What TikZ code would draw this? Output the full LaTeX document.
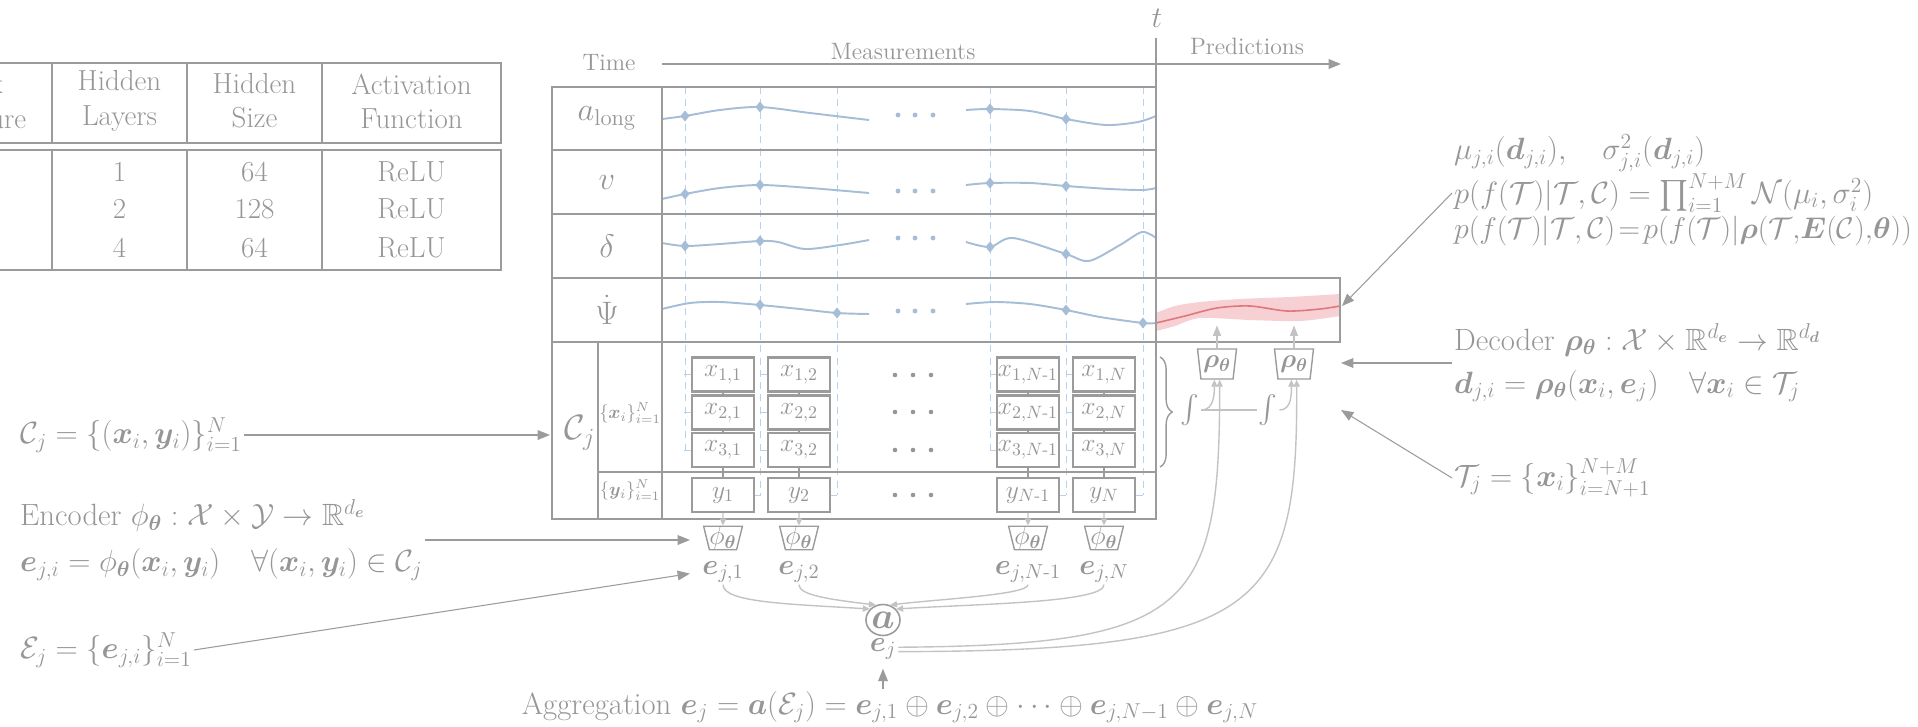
\documentclass[tikz,border=0pt]{standalone}
\usepackage{fix-cm}
\usepackage{amsmath,amssymb,bm}
\usetikzlibrary{shapes.geometric,decorations.pathreplacing,arrows.meta}
\definecolor{linegray}{RGB}{155,155,155}
\definecolor{txtgray}{RGB}{150,150,150}
\definecolor{softgray}{RGB}{195,195,195}
\definecolor{curveblue}{RGB}{165,189,214}
\definecolor{dashblue}{RGB}{182,210,240}
\definecolor{predred}{RGB}{222,120,125}
\definecolor{bandred}{RGB}{246,208,211}
\begin{document}
\begin{tikzpicture}[x=0.02cm,y=-0.02cm,
  gridln/.style={draw=linegray,line width=1.2pt},
  hair/.style={draw=linegray,line width=0.6pt},
  conn/.style={draw=linegray,line width=0.6pt,-{Triangle[length=7pt,width=5.5pt]}},
  soft/.style={draw=softgray,line width=0.8pt,-{Triangle[length=4pt,width=3.5pt]}},
  uparr/.style={draw=softgray,line width=0.8pt,-{Triangle[length=6pt,width=4.5pt]}},
  lbl/.style={text=txtgray,inner sep=1pt},
  eqn/.style={lbl,anchor=west,font=\fontsize{17.5}{21}\selectfont},
  tabtxt/.style={lbl,align=center,font=\fontsize{16.5}{19.5}\selectfont},
  axlbl/.style={lbl,font=\fontsize{13.5}{16}\selectfont},
  rowlbl/.style={lbl,font=\fontsize{18.5}{21}\selectfont},
  cell/.style={draw=linegray,line width=1.2pt,fill=white,minimum width=1.24cm,minimum height=0.68cm,inner sep=0pt,text=txtgray,font=\fontsize{14.5}{16}\selectfont},
  enc/.style={trapezium,shape border rotate=180,trapezium angle=76,trapezium stretches=true,draw=linegray,line width=0.8pt,minimum width=0.76cm,minimum height=0.44cm,inner sep=0pt,text=txtgray,font=\fontsize{15}{17}\selectfont},
  dec/.style={enc,trapezium angle=80,minimum width=0.78cm,minimum height=0.6cm},
  bluecurve/.style={draw=curveblue,line width=1.1pt},
  dashln/.style={draw=dashblue,line width=0.5pt,dash pattern=on 4pt off 3pt},
]
\useasboundingbox (0,0) rectangle (1918,727);
\clip (0,0) rectangle (1918,727);

% network table
\draw[gridln] (-200,63) rectangle (501,143);
\draw[gridln] (-200,150) rectangle (501,270);
\foreach \x in {52,187,322} {\draw[gridln] (\x,63)--(\x,143); \draw[gridln] (\x,150)--(\x,270);}
\node[tabtxt] (hnet) at (-46,101) {Network\\Architecture};
\node[tabtxt] (hlay) at (119.5,101) {Hidden\\Layers};
\node[tabtxt] (hsize) at (254.5,101) {Hidden\\Size};
\node[tabtxt] (hact) at (411.5,101) {Activation\\Function};
\foreach \r/\y/\l/\s in {1/172/1/64,2/209/2/128,3/248/4/64} {
  \node[tabtxt] (lay\r) at (119.5,\y) {\l};
  \node[tabtxt] (size\r) at (254.5,\y) {\s};
  \node[tabtxt] (act\r) at (411.5,\y) {ReLU};
}

% time axis
\node[axlbl] (time) at (609,63) {Time};
\node[axlbl] (meas) at (903,52) {Measurements};
\node[axlbl] (pred) at (1247,46) {Predictions};
\node[lbl,font=\fontsize{17}{21}\selectfont] (tlab) at (1157,18) {$t$};
\coordinate (tstart) at (662,64);
\coordinate (tend) at (1341,64);
\draw[conn,line width=0.8pt] (tstart) -- (tend);
\draw[gridln] (1156,38) -- (1156,87);

% measurement curves
\foreach \x/\e in {685/450,760/495,837/495,990/450,1066/495,1143/495} \draw[dashln] (\x,87) -- (\x,\e);
\draw[bluecurve] plot[smooth] coordinates {(662,119) (685,116) (720,110) (760,107) (810,113) (869,120)};
\draw[bluecurve] plot[smooth] coordinates {(966,110) (990,109) (1030,111) (1066,119) (1106,125) (1138,122) (1156,116)};
\draw[bluecurve] plot[smooth] coordinates {(662,199) (685,194) (720,188) (760,185) (810,188) (869,193)};
\draw[bluecurve] plot[smooth] coordinates {(966,185) (990,183) (1030,183) (1066,186) (1110,189) (1143,190) (1156,188)};
\draw[bluecurve] plot[smooth] coordinates {(662,243) (685,246) (720,244) (760,241) (778,242) (805,249) (840,245) (869,240)};
\draw[bluecurve] plot[smooth] coordinates {(966,242) (990,247) (1013,238) (1066,254) (1089,261) (1120,245) (1142,232) (1156,238)};
\draw[bluecurve] plot[smooth] coordinates {(662,309) (690,303) (720,302) (760,305) (800,309) (837,313) (869,314)};
\draw[bluecurve] plot[smooth] coordinates {(966,304) (995,302) (1030,304) (1066,310) (1100,317) (1143,323) (1156,323)};
\foreach \p in {{685,116},{760,107},{990,109},{1066,119},{685,194},{760,185},{990,183},{1066,186},{685,246},{760,241},{990,247},{1066,254},{760,305},{837,313},{1066,310},{1143,323}}
  \fill[curveblue] (\p) +(0,-5.5) -- +(4.5,0) -- +(0,5.5) -- +(-4.5,0) -- cycle;
\foreach \y in {115,191,238,311} \foreach \x in {898,915,933} \fill[curveblue] (\x,\y) circle (1.4pt);

% prediction
\fill[bandred] plot[smooth] coordinates {(1156,313) (1175,306) (1200,302) (1240,299) (1290,297) (1340,294)}
  -- plot[smooth] coordinates {(1340,316) (1300,321) (1250,320) (1200,318) (1175,326) (1156,331)} -- cycle;
\draw[draw=predred,line width=0.9pt] plot[smooth] coordinates {(1156,323) (1185,316) (1217,308) (1250,306) (1287,311) (1320,309) (1340,306)};
\draw[gridln] (1156,278) rectangle (1340,342);

% grid
\draw[gridln] (552,87) rectangle (1156,519);
\foreach \y in {150,214,278,342} \draw[gridln] (552,\y) -- (1156,\y);
\draw[gridln] (662,87) -- (662,519);
\draw[gridln] (598,342) -- (598,519);
\draw[gridln] (598,472) -- (1156,472);
\node[rowlbl] (along) at (607,118) {$a_{\mathrm{long}}$};
\node[rowlbl] (vel) at (607,182) {$v$};
\node[rowlbl] (steer) at (607,246) {$\delta$};
\node[rowlbl] (yaw) at (607,310) {$\dot{\Psi}$};
\node[lbl,font=\fontsize{20}{23}\selectfont] (cj) at (580,433) {$\mathcal{C}_j$};
\node[lbl,font=\fontsize{10.5}{12}\selectfont] (xset) at (630,413) {$\{\bm{x}_i\}_{i=1}^{N}$};
\node[lbl,font=\fontsize{10.5}{12}\selectfont] (yset) at (630,490) {$\{\bm{y}_i\}_{i=1}^{N}$};

% context cells
\foreach \c/\x/\s in {1/723/1,2/799/2,3/1028/{N\text{-}1},4/1104/N} {
  \foreach \r/\y in {1/374.5,2/412.5,3/450} \node[cell] (x\r\c) at (\x,\y) {$x_{\r,\s}$};
  \node[cell] (y\c) at (\x,495) {$y_{\s}$};
  \draw[hair] (x1\c) -- (x2\c);
  \draw[hair] (x2\c) -- (x3\c);
  \draw[hair] (x3\c) -- (y\c);
  \node[enc] (phi\c) at (\x,538) {$\phi_{\bm\theta}$};
  \node[lbl,font=\fontsize{16.5}{19}\selectfont] (e\c) at (\x,572) {$\bm{e}_{j,\s}$};
  \draw[soft] (y\c) -- (phi\c);
}
\foreach \r in {1,2,3} {
  \draw[dashln] (x\r1.west) -- ++(-7,0);
  \draw[dashln] (x\r2.west) -- ++(-7,0);
  \draw[dashln] (x\r3.west) -- ++(-6,0);
  \draw[dashln] (x\r4.west) -- ++(-6,0);
}
\foreach \c/\d in {1/6,2/6,3/6,4/7} \draw[dashln] (y\c.east) -- ++(\d,0);
\foreach \y in {375,412,450,495} \foreach \x in {895,913,931} \fill[txtgray] (\x,\y) circle (1.3pt);

% aggregation
\node[draw=linegray,line width=0.9pt,ellipse,minimum width=0.68cm,minimum height=0.62cm,inner sep=0pt,text=txtgray,font=\fontsize{21}{23}\selectfont] (agg) at (883,620) {$\bm{a}$};
\node[lbl,font=\fontsize{16.5}{19}\selectfont] (ej) at (883,649) {$\bm{e}_j$};
\draw[soft] (e1.south) .. controls +(0,18) and +(-80,-5) .. (agg.140);
\draw[soft] (e2.south) .. controls +(0,10) and +(-50,-6) .. (agg.115);
\draw[soft] (e3.south) .. controls +(0,10) and +(50,-6) .. (agg.65);
\draw[soft] (e4.south) .. controls +(0,18) and +(80,-5) .. (agg.40);

% decoder
\node[dec] (rho1) at (1217,364) {$\bm{\rho}_{\bm\theta}$};
\node[dec] (rho2) at (1294,364) {$\bm{\rho}_{\bm\theta}$};
\draw[uparr] (rho1.north) -- ++(0,-23);
\draw[uparr] (rho2.north) -- ++(0,-23);
\draw[draw=linegray,line width=0.8pt,decorate,decoration={brace,amplitude=7pt}] (1160,357) -- (1160,467);
\node[lbl,font=\fontsize{16}{19}\selectfont] (int1) at (1190,410) {$\int$};
\node[lbl,font=\fontsize{16}{19}\selectfont] (int2) at (1268,410) {$\int$};
\draw[draw=softgray,line width=0.8pt] (int1.east) -- (int2.west);
\draw[soft] (int1.east) to[out=0,in=-90] ([xshift=-1.5pt]rho1.south);
\draw[soft] (int2.east) to[out=0,in=-90] ([xshift=-1.5pt]rho2.south);
\draw[soft] ([yshift=1pt]ej.east) .. controls (1190,645) and (1220,610) .. ([xshift=1.5pt]rho1.south);
\draw[soft] ([yshift=-1.5pt]ej.east) .. controls (1262,651) and (1298,610) .. ([xshift=1.5pt]rho2.south);

% equations
\node[eqn] (ctxeq) at (18,435) {$\mathcal{C}_j=\{(\bm{x}_i,\bm{y}_i)\}_{i=1}^{N}$};
\node[eqn,align=left,font=\fontsize{17.5}{26}\selectfont] (enceq) at (18,540) {Encoder $\phi_{\bm\theta}:\mathcal{X}\times\mathcal{Y}\to\mathbb{R}^{d_{\bm e}}$\\ $\bm{e}_{j,i}=\phi_{\bm\theta}(\bm{x}_i,\bm{y}_i)\quad\forall(\bm{x}_i,\bm{y}_i)\in\mathcal{C}_j$};
\node[eqn] (ejeq) at (18,650) {$\mathcal{E}_j=\{\bm{e}_{j,i}\}_{i=1}^{N}$};
\node[eqn,anchor=center] (aggeq) at (890,707) {Aggregation $\bm{e}_j=\bm{a}(\mathcal{E}_j)=\bm{e}_{j,1}\oplus\bm{e}_{j,2}\oplus\cdots\oplus\bm{e}_{j,N-1}\oplus\bm{e}_{j,N}$};
\node[eqn] (mueq) at (1452,153) {$\mu_{j,i}(\bm{d}_{j,i}),\quad\sigma^2_{j,i}(\bm{d}_{j,i})$};
\node[eqn] (likeq) at (1452,193) {$p(f(\mathcal{T})|\mathcal{T},\mathcal{C})=\prod_{i=1}^{N+M}\mathcal{N}(\mu_i,\sigma_i^2)$};
\node[eqn,font=\fontsize{17}{21}\selectfont] (posteq) at (1452,231) {$p(f(\mathcal{T})|\mathcal{T},\mathcal{C})\!=\!p(f(\mathcal{T})|\bm{\rho}(\mathcal{T},\!\bm{E}(\mathcal{C}),\!\bm{\theta}))$};
\node[eqn,align=left,font=\fontsize{17.5}{24.5}\selectfont] (deceq) at (1452,363) {Decoder $\bm{\rho}_{\bm\theta}:\mathcal{X}\times\mathbb{R}^{d_{\bm e}}\to\mathbb{R}^{d_{\bm d}}$\\ $\bm{d}_{j,i}=\bm{\rho}_{\bm\theta}(\bm{x}_i,\bm{e}_j)\quad\forall\bm{x}_i\in\mathcal{T}_j$};
\node[eqn] (tgteq) at (1452,478) {$\mathcal{T}_j=\{\bm{x}_i\}_{i=N+1}^{N+M}$};

% connectors
\coordinate (cjin) at (550,0);
\coordinate (predin) at (1342,306);
\coordinate (decin) at (1341,0);
\coordinate (tgtin) at (1341,410);
\draw[conn] (ctxeq.east) -- (ctxeq.east -| cjin);
\draw[conn,shorten >=9pt] (enceq.east) -- (enceq.east -| phi1.west);
\draw[conn,shorten >=6pt] (ejeq.east) -- (e1.west);
\draw[conn,shorten >=4pt] (aggeq.north -| ej) -- (ej.south);
\draw[conn] (likeq.west) -- (predin);
\draw[conn] (deceq.west) -- (deceq.west -| decin);
\draw[conn] (tgteq.west) -- (tgtin);
\end{tikzpicture}
\end{document}
